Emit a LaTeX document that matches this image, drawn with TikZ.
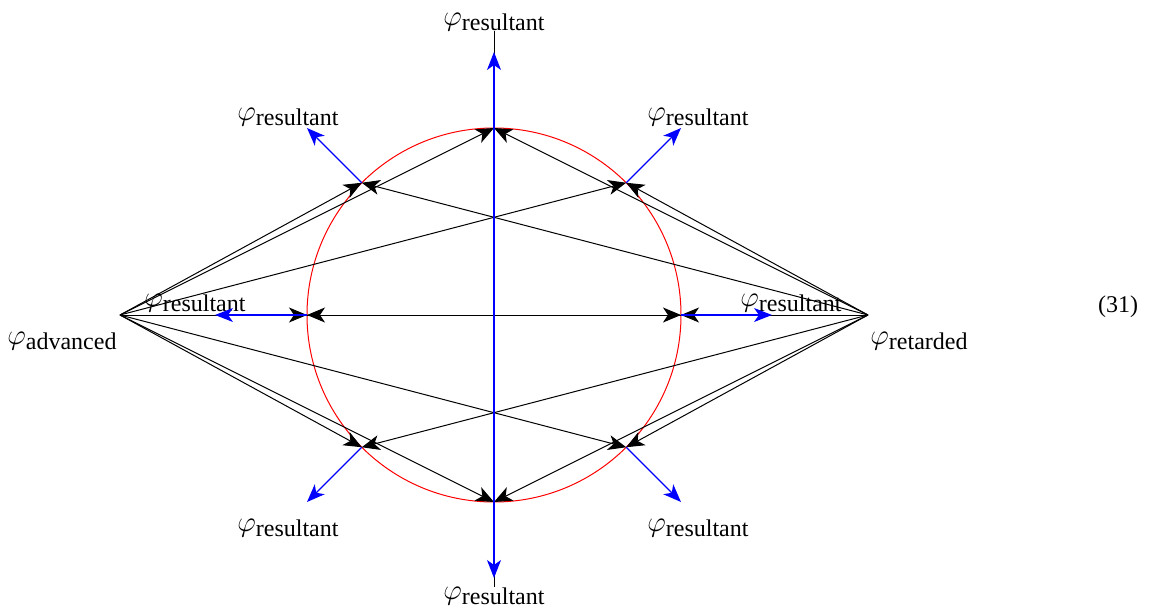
\documentclass[tikz,border=0pt]{standalone}
\usepackage{fontspec}
\setmainfont{Liberation Serif}
\usepackage{tikz}
\usetikzlibrary{arrows.meta}

\newcommand{\phiname}[1]{{\fontsize{15}{17}\selectfont$\varphi$}\raisebox{-2.5pt}{#1}}

\begin{document}
\begin{tikzpicture}[x=0.5pt, y=0.5pt,
    ray/.style={-{Stealth[length=9pt,width=7.5pt,inset=2.5pt]}, line width=0.5pt, black},
    res/.style={-{Stealth[length=9pt,width=7pt,inset=2.5pt]}, line width=0.6pt, blue},
    lbl/.style={font=\fontsize{12}{14}\selectfont, inner sep=0pt}
  ]
  \useasboundingbox (-494,315) rectangle (656,-296);

  % circle and its eight points
  \draw[red, line width=0.5pt] (0,0) circle (187);
  \foreach \n/\a in {e/0, ne/45, n/90, nw/135, w/180, sw/225, s/270, se/315}
    \coordinate (p\n) at (\a:187);

  % tips of the resultant arrows
  \foreach \n/\x/\y in {n/0/263, s/0/-263, w/-279/0, e/278/0,
                        nw/-187/187, ne/187/187, sw/-187/-187, se/187/-187}
    \coordinate (t\n) at (\x,\y);

  % sources
  \coordinate (adv) at (-374,0);
  \coordinate (ret) at (374,0);
  \node[lbl] (advl) at (-432,-26) {\phiname{advanced}};
  \node[lbl] (retl) at (425,-26) {\phiname{retarded}};

  % resultant labels
  \node[lbl] (ln) at (0,293) {\phiname{resultant}};
  \node[lbl] (ls) at (0,-281) {\phiname{resultant}};
  \node[lbl] (lw) at (-299,12) {\phiname{resultant}};
  \node[lbl] (le) at (297,12) {\phiname{resultant}};
  \node[lbl] (lnw) at (-206,198) {\phiname{resultant}};
  \node[lbl] (lne) at (204,198) {\phiname{resultant}};
  \node[lbl] (lsw) at (-206,-213) {\phiname{resultant}};
  \node[lbl] (lse) at (204,-213) {\phiname{resultant}};

  \node[lbl] (eqno) at (624,8) {(31)};

  % vertical axis
  \draw[line width=0.5pt] (ln.south) -- (ls.north);

  % rays from both sources
  \foreach \p in {n, ne, e, se, s, sw, w, nw} {
    \draw[ray] (adv) -- (p\p);
    \draw[ray] (ret) -- (p\p);
  }

  % resultants
  \draw[blue, line width=0.6pt] (pn) -- (ps);
  \foreach \p in {n, ne, e, se, s, sw, w, nw}
    \draw[res] (p\p) -- (t\p);
\end{tikzpicture}
\end{document}
